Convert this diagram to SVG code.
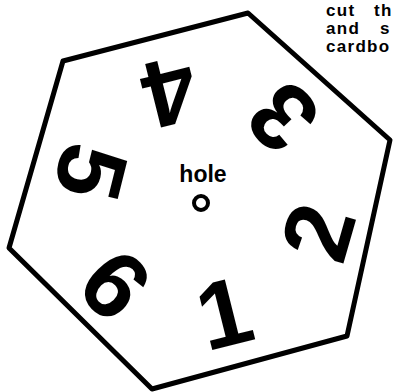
<svg xmlns="http://www.w3.org/2000/svg" width="394" height="392" viewBox="0 0 394 392">
<style>
.edge{fill:none;stroke:#000;stroke-width:5;stroke-linejoin:round}
.dig{font-family:"Liberation Sans",Arial,sans-serif;font-weight:bold;font-size:95px;text-anchor:middle;fill:#000}
.note{font-family:"Liberation Sans",Arial,sans-serif;font-weight:bold;font-size:17px;fill:#000;letter-spacing:1.3px}
.lbl{font-family:"Liberation Sans",Arial,sans-serif;font-weight:bold;font-size:23px;text-anchor:middle;fill:#000}
</style>
<rect width="394" height="392" fill="#fff"/>
<g id="hexagon">
<polygon class="edge" points="63,61 248,13 390,140 347,336 152,389 9,248"/>
</g>
<g id="digits">
<text class="dig" transform="translate(224,312) rotate(-14)" y="34">1</text>
<text class="dig" transform="translate(317,232) rotate(-74)" y="34">2</text>
<text class="dig" transform="translate(282,118) rotate(-134)" y="34">3</text>
<text class="dig" transform="translate(170,93) rotate(166)" y="34">4</text>
<text class="dig" transform="translate(92,172) rotate(104)" y="34">5</text>
<text class="dig" transform="translate(116,284) rotate(46)" y="34">6</text>
</g>
<g id="hole">
<text class="lbl" x="203" y="182">hole</text>
<circle cx="201" cy="203" r="7" fill="none" stroke="#000" stroke-width="4"/>
</g>
<g id="note">
<text class="note" x="326" y="16">cut<tspan x="374">th</tspan></text>
<text class="note" x="326" y="34">and<tspan x="380">s</tspan></text>
<text class="note" x="326" y="52">cardbo</text>
</g>
</svg>
